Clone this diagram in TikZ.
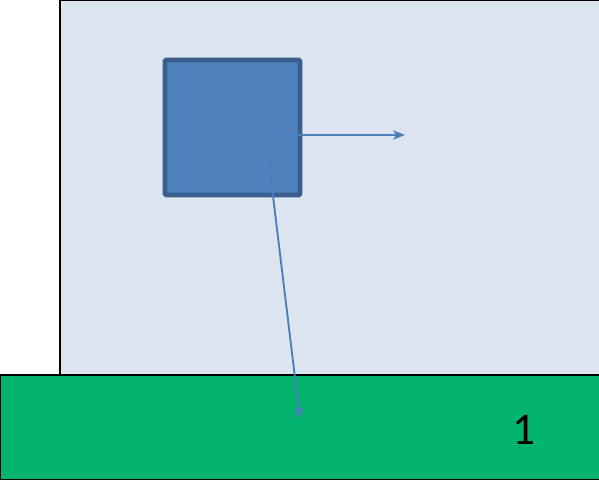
\documentclass[tikz,border=0pt]{standalone}
\usepackage{fontspec}
\setmainfont{Carlito}
\usetikzlibrary{arrows.meta}
\definecolor{paneblue}{HTML}{DCE4F0}
\definecolor{groundgreen}{HTML}{03B46F}
\definecolor{boxfill}{HTML}{4F81BD}
\definecolor{boxedge}{HTML}{3A5F8C}
\definecolor{vecblue}{HTML}{4A7EBB}
\begin{document}
\begin{tikzpicture}[>={Stealth[length=9pt,width=7pt,inset=2.5pt]},x=0.75pt,y=-0.75pt]
\useasboundingbox (0,0) rectangle (599,479);
\coordinate (W1) at (60,0);
\coordinate (W2) at (600,375);
\coordinate (G1) at (0,375);
\coordinate (G2) at (600,480);
\coordinate (B1) at (165,60);
\coordinate (B2) at (300,195);
\coordinate (V) at (268,135);
\coordinate (VX) at (405,135);
\coordinate (F) at (269,163);
\coordinate (FY) at (300,419);
\coordinate (L) at (524,430);
\draw[fill=paneblue,line width=1.5pt] (W1) rectangle (W2);
\draw[fill=groundgreen,line width=1.5pt] (G1) rectangle (G2);
\draw[fill=boxfill,draw=boxedge,line width=3.7pt,rounded corners=1pt] (B1) rectangle (B2);
\draw[->,vecblue,line width=1.4pt] (V) -- (VX);
\draw[->,vecblue,line width=1.4pt] (F) -- (FY);
\node (one) at (L) {\fontsize{34}{34}\selectfont 1};
\end{tikzpicture}
\end{document}
